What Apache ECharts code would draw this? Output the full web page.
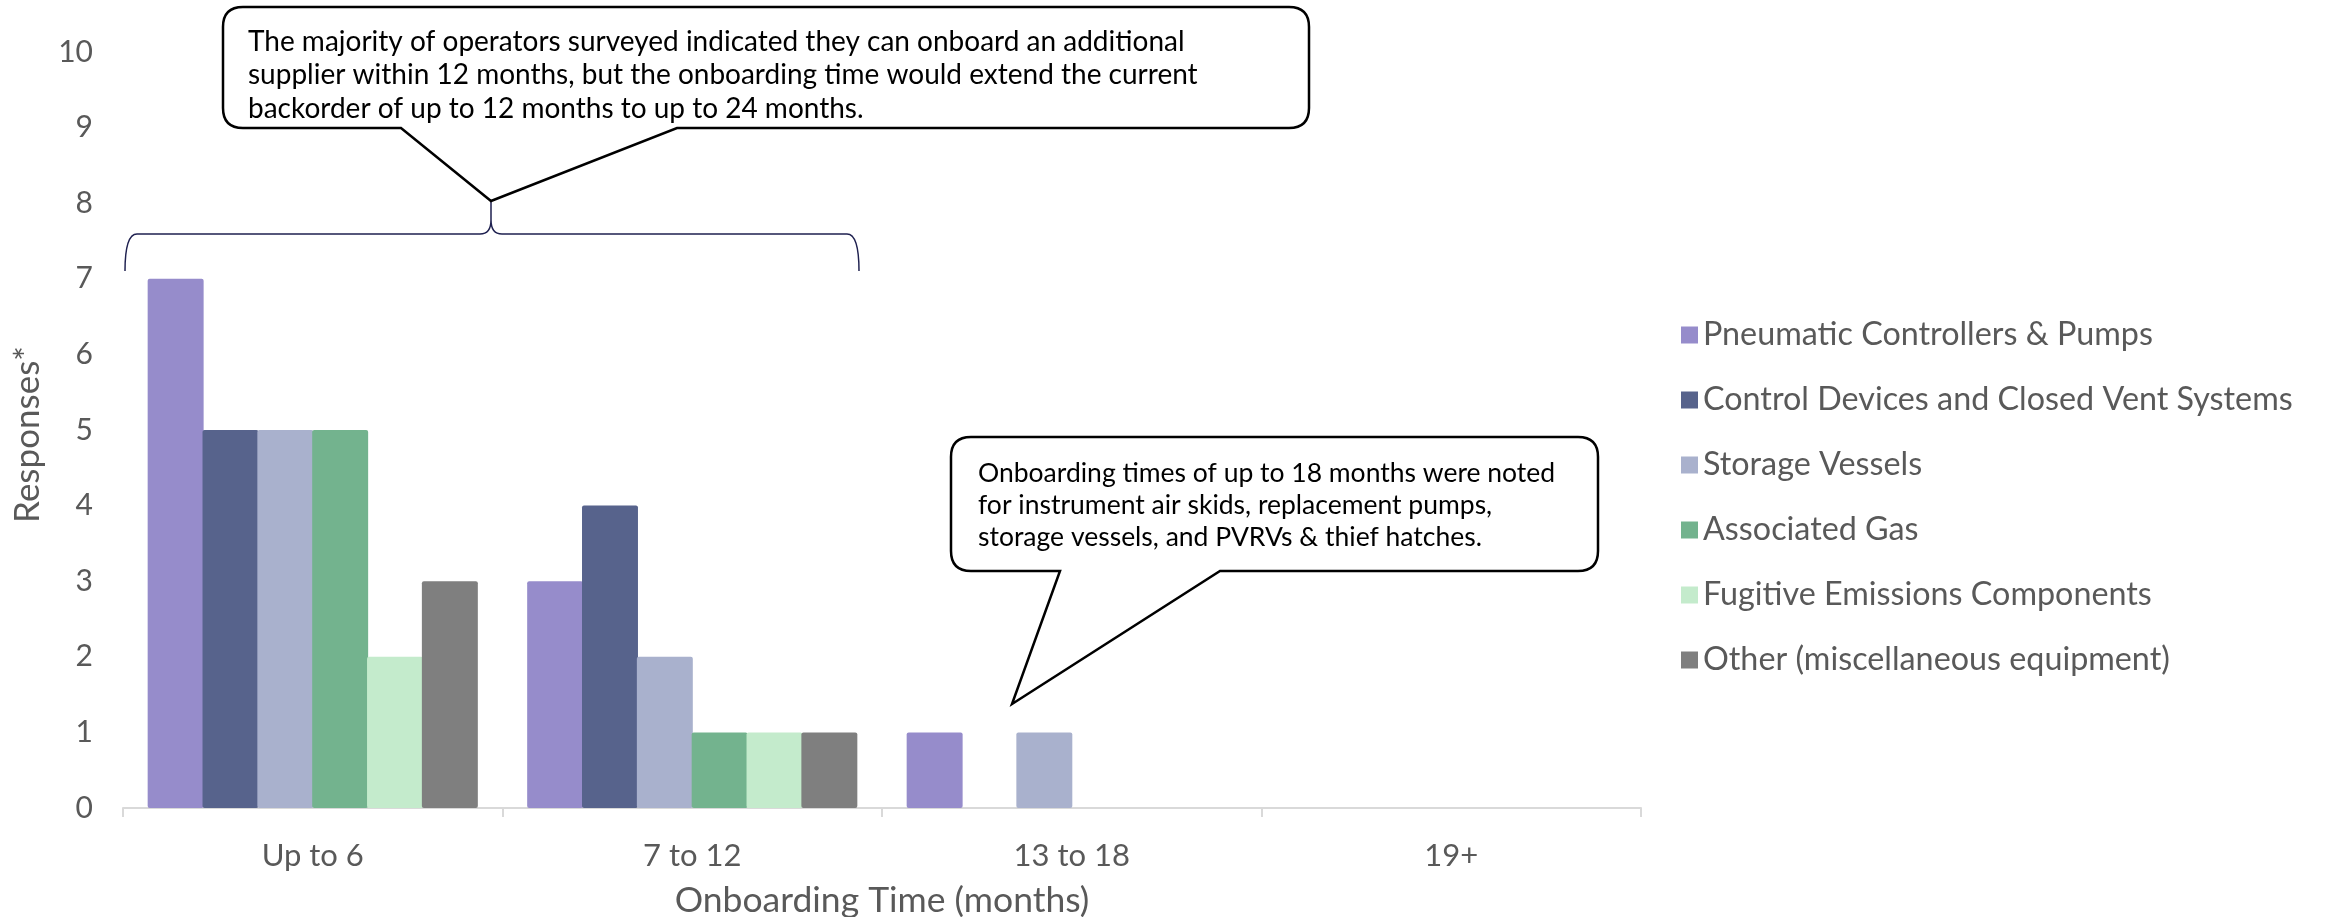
<!DOCTYPE html>
<html>
<head>
<meta charset="utf-8">
<style>
  html, body { margin: 0; padding: 0; background: #ffffff; }
  #chart { width: 2325px; height: 917px; }
</style>
<script src="https://cdn.jsdelivr.net/npm/echarts@6/dist/echarts.min.js"></script>
</head>
<body>
<div id="chart"></div>
<script>
// Onboarding time buckets (x axis)
const categories = ['Up to 6', '7 to 12', '13 to 18', '19+'];

// Equipment groups and their response counts per bucket
const seriesNames = [
  'Pneumatic Controllers & Pumps',
  'Control Devices and Closed Vent Systems',
  'Storage Vessels',
  'Associated Gas',
  'Fugitive Emissions Components',
  'Other (miscellaneous equipment)'
];
const pneumatic   = [7, 3, 1, 0];
const controlDev  = [5, 4, 0, 0];
const storage     = [5, 2, 1, 0];
const assocGas    = [5, 1, 0, 0];
const fugitive    = [2, 1, 0, 0];
const other       = [3, 1, 0, 0];
const seriesValues = [pneumatic, controlDev, storage, assocGas, fugitive, other];
const seriesColors = ['#968ccb', '#57638c', '#a9b1cd', '#73b38e', '#c4ebcc', '#7f7f7f'];

const yTicks = [0, 1, 2, 3, 4, 5, 6, 7, 8, 9, 10];

const note1 = 'The majority of operators surveyed indicated they can onboard an additional\n' +
              'supplier within 12 months, but the onboarding time would extend the current\n' +
              'backorder of up to 12 months to up to 24 months.';
const note2 = 'Onboarding times of up to 18 months were noted\n' +
              'for instrument air skids, replacement pumps,\n' +
              'storage vessels, and PVRVs & thief hatches.';

const FONT = 'Lato, "Open Sans", sans-serif';
const GREY = '#595959';

const chart = echarts.init(document.getElementById('chart'), null, { renderer: 'canvas' });

const option = {
  animation: false,
  backgroundColor: '#ffffff',
  textStyle: { fontFamily: FONT },
  grid: { left: 123, right: 684, top: 52, bottom: 109, containLabel: false, outerBoundsMode: 'none' },
  legend: {
    orient: 'vertical',
    left: 1676,
    top: 314,
    itemWidth: 17,
    itemHeight: 17,
    itemGap: 33,
    icon: 'rect',
    data: seriesNames,
    textStyle: { fontFamily: FONT, fontSize: 32.3, color: GREY, lineHeight: 30, padding: [0, 0, 0, 0] }
  },
  xAxis: {
    type: 'category',
    data: categories,
    name: 'Onboarding Time (months)',
    nameLocation: 'middle',
    nameGap: 75,
    nameTextStyle: { fontFamily: FONT, fontSize: 35.5, color: GREY },
    axisLine: { show: true, lineStyle: { color: '#d9d9d9', width: 2 } },
    axisTick: { show: true, length: 9, lineStyle: { color: '#d9d9d9', width: 2 } },
    axisLabel: { fontFamily: FONT, fontSize: 31, color: GREY, margin: 32 },
    splitLine: { show: false }
  },
  yAxis: {
    type: 'value',
    min: yTicks[0],
    max: yTicks[yTicks.length - 1],
    interval: 1,
    name: 'Responses*',
    nameLocation: 'middle',
    nameGap: 78,
    nameTextStyle: { fontFamily: FONT, fontSize: 35, color: GREY, padding: [0, 9, 0, 0] },
    axisLine: { show: false },
    axisTick: { show: false },
    splitLine: { show: false },
    axisLabel: { fontFamily: FONT, fontSize: 30, color: GREY, margin: 30 }
  },
  series: seriesNames.map((name, i) => ({
    name: name,
    type: 'bar',
    data: seriesValues[i],
    barGap: '-2%',
    barCategoryGap: '13%',
    itemStyle: { color: seriesColors[i], borderRadius: 2 }
  })),
  graphic: [
    {
      type: 'text',
      z: 120,
      left: 248,
      top: 25,
      style: { text: note1, font: '28px ' + FONT, fill: '#000000', lineHeight: 33.5 }
    },
    {
      type: 'text',
      z: 120,
      left: 978,
      top: 457,
      style: { text: note2, font: '26.5px ' + FONT, fill: '#000000', lineHeight: 32 }
    }
  ]
};

chart.setOption(option);

// Brace over the first two buckets and the two speech bubbles
const zr = chart.getZr();
const outlines = [
  {
    d: 'M 125 271 Q 125 234 137 234 L 480 234 Q 491 234 491 220 L 491 202 ' +
       'M 491 202 L 491 220 Q 491 234 502 234 L 847 234 Q 859 234 859 271',
    style: { fill: null, stroke: '#1f2150', lineWidth: 1.5 }
  },
  {
    d: 'M 243 7 L 1289 7 Q 1309 7 1309 27 L 1309 108 Q 1309 128 1289 128 ' +
       'L 677 128 L 491 201 L 401 128 L 243 128 Q 223 128 223 108 L 223 27 Q 223 7 243 7 Z',
    style: { fill: '#ffffff', stroke: '#000000', lineWidth: 2.5 }
  },
  {
    d: 'M 971 437 L 1578 437 Q 1598 437 1598 457 L 1598 551 Q 1598 571 1578 571 ' +
       'L 1220 571 L 1012 704 L 1060 571 L 971 571 Q 951 571 951 551 L 951 457 Q 951 437 971 437 Z',
    style: { fill: '#ffffff', stroke: '#000000', lineWidth: 2.5 }
  }
];
outlines.forEach(o => {
  const p = echarts.graphic.makePath(o.d, { style: o.style, z: 100, silent: true });
  zr.add(p);
});
</script>
</body>
</html>
